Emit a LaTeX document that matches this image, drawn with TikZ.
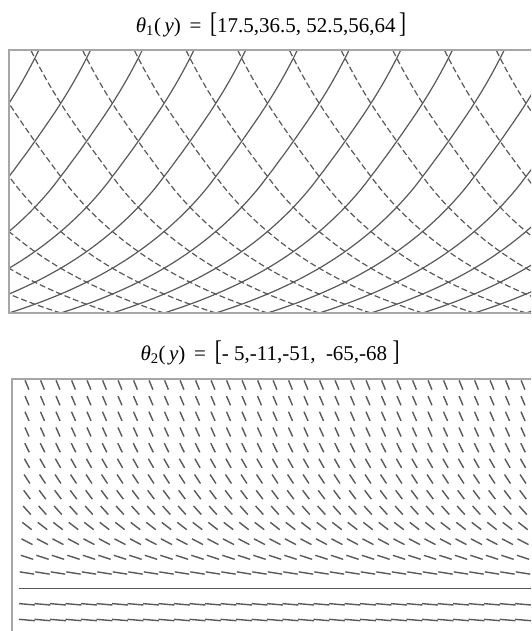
\documentclass[tikz,border=0pt]{standalone}
\usepackage{fontspec}
\setmainfont{Liberation Serif}
\usepackage{graphicx}

\newcommand{\tallbr}[1]{\scalebox{1}[1.35]{#1}}

\begin{document}
\begin{tikzpicture}[x=1pt,y=-1pt,
  frame/.style={draw=gray!70,line width=2pt},
  solidc/.style={draw=black!65,line width=1.2pt},
  dashc/.style={draw=black!65,line width=1.2pt,dash pattern=on 6pt off 3pt},
  tick/.style={draw=black!65,line width=1.4pt},
  lbl/.style={font=\fontsize{21}{24}\selectfont,inner sep=0pt},
  declare function={
    Fy(\t)=(\t<65.75) ? 198.27*(ln(sin(17.5+0.288973*\t))+1.201621) :
      ((\t<131.5) ? 135.25+235.45*(ln(sin(36.5+0.243346*(\t-65.75)))+0.519493) :
      ((\t<197.25) ? 203.06+1076.34*(ln(sin(52.5+0.053232*(\t-131.5)))+0.231485) :
      250.41+470.90*(ln(sin(56+0.121673*(\t-197.25)))+0.187490)));
  }
]
\useasboundingbox (0,0) rectangle (531,631);

% titles
\node[lbl] (title1) at (271,25)
  {\textit{θ}\textsubscript{1}(\,\textit{y}) \,=\, \tallbr{[}17.5,36.5, 52.5,56,64\,\tallbr{]}};
\node[lbl] (title2) at (270,353)
  {\textit{θ}\textsubscript{2}(\,\textit{y}) \,=\, \tallbr{[}- 5,-11,-51,\ \ -65,-68\ \tallbr{]}};

% upper panel: two families of curves
\begin{scope}
  \clip (9,50) rectangle (531,313);
  \foreach \k in {-6,...,10}
    \draw[solidc] plot[domain=0:263,samples=90,variable=\t]
      ({9+\k*51.7+Fy(\t)},{313-\t});
  \foreach \k in {0,...,15}
    \draw[dashc] plot[domain=0:263,samples=90,variable=\t]
      ({9+\k*51.7-Fy(\t)},{313-\t});
\end{scope}
\draw[frame] (531,50) -- (9,50) -- (9,313) -- (531,313);

% lower panel: short strokes, angle from the list
\begin{scope}
  \clip (12,379) rectangle (531,631);
  \foreach \y/\a/\l in {385/-67.7/10,400.7/-66.9/10,416.3/-66.2/10,432/-65.5/10,
      447.7/-63.7/10.2,463.3/-60.2/10.5,479/-56.8/10.8,494.7/-53.3/11,
      510.3/-47.9/11.5,526/-37.7/12,541.7/-27.7/12.5,557.3/-18/13,
      573/-9/14.5,588.7/0/15.6,604.3/-5/16,620/-5/16}{
    \pgfmathsetmacro{\dx}{0.5*\l*cos(\a)}
    \pgfmathsetmacro{\dy}{0.5*\l*sin(\a)}
    \foreach \c in {0,...,32}
      \draw[tick] ({27+\c*15.5-\dx},{\y+\dy}) -- ({27+\c*15.5+\dx},{\y-\dy});
  }
\end{scope}
\draw[frame] (531,379) -- (12,379) -- (12,631);
\end{tikzpicture}
\end{document}
